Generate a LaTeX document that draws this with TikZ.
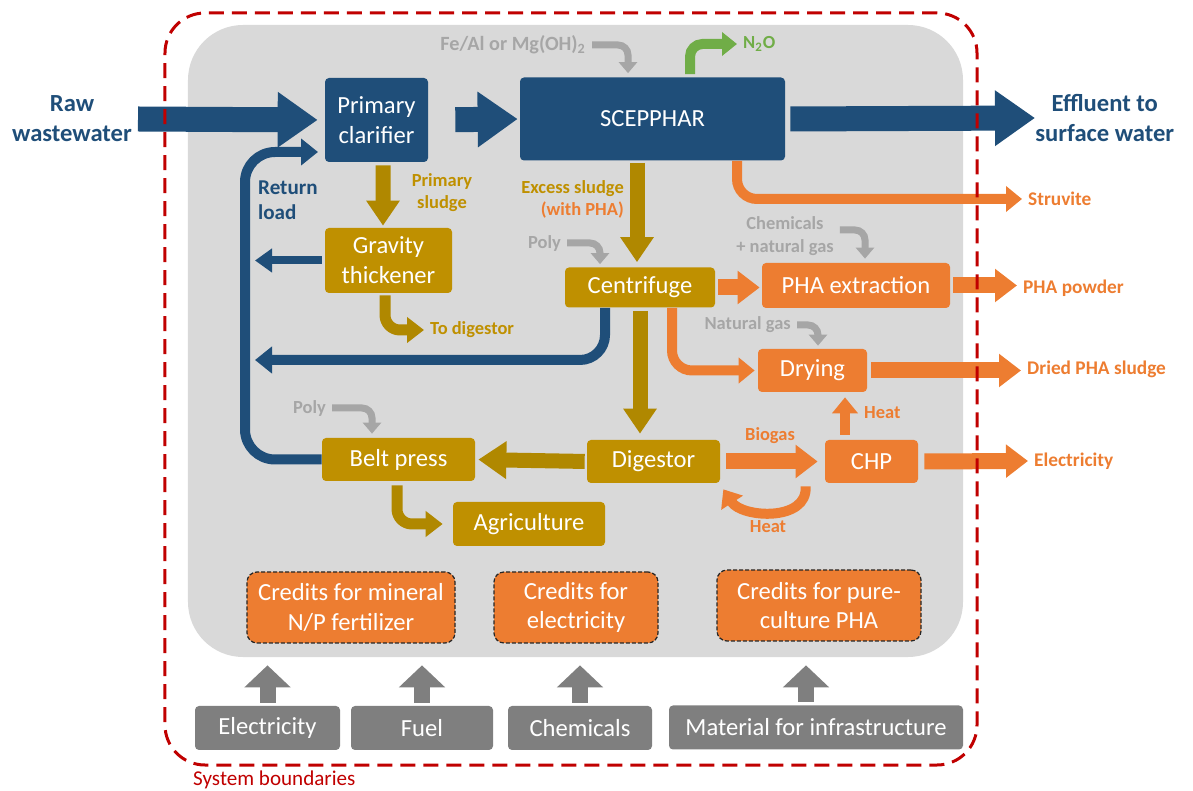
\documentclass[tikz,border=0pt]{standalone}
\usepackage{fontspec}
\setmainfont{Carlito}
\usepackage{tikz}
\usetikzlibrary{arrows.meta}
\definecolor{wwblue}{HTML}{1F4E79}
\definecolor{sgold}{HTML}{BF9000}
\definecolor{dgold}{HTML}{B08800}
\definecolor{porange}{HTML}{ED7D31}
\definecolor{ngreen}{HTML}{70AD47}
\definecolor{lgray}{HTML}{A6A6A6}
\definecolor{dgray}{HTML}{7F7F7F}
\definecolor{bggray}{HTML}{D9D9D9}
\definecolor{bred}{HTML}{C00000}
\newcommand{\procfont}{\fontsize{14}{17}\selectfont}
\newcommand{\termfont}{\fontsize{14}{17}\selectfont\bfseries}
\newcommand{\flowfont}{\fontsize{10.5}{12.5}\selectfont\bfseries}
\newcommand{\outfont}{\fontsize{11}{13}\selectfont\bfseries}
\newcommand{\chemfont}{\fontsize{10.5}{13}\selectfont\bfseries}

\begin{document}
\begin{tikzpicture}[x=0.2mm, y=-0.2mm]
        \tikzstyle{box} = [rectangle, rounded corners=0.8mm, inner sep=0pt, text=white, align=center, font=\procfont]
        \tikzstyle{bluebox} = [box, fill=wwblue]
        \tikzstyle{goldbox} = [box, fill=sgold]
        \tikzstyle{orangebox} = [box, fill=porange]
        \tikzstyle{creditbox} = [box, fill=porange, draw=black!85, dash pattern=on 0.8mm off 0.4mm, line width=0.25mm, rounded corners=2mm, minimum height=14.2mm]
        \tikzstyle{inputbox} = [box, fill=dgray, minimum height=8.8mm]
        \tikzstyle{bigflow} = [draw=wwblue, line width=5mm, -{Triangle[length=8mm,width=10.6mm]}]
        \tikzstyle{retflow} = [draw=wwblue, line width=2mm, -{Triangle[length=3.4mm,width=5.2mm]}, rounded corners=5mm]
        \tikzstyle{sludgeflow} = [draw=dgold, line width=3mm, -{Triangle[length=5mm,width=6.4mm]}]
        \tikzstyle{sludgebend} = [draw=dgold, line width=2.2mm, -{Triangle[length=3.4mm,width=5mm]}, rounded corners=3mm]
        \tikzstyle{energyflow} = [draw=porange, line width=3.2mm, -{Triangle[length=4.4mm,width=6.4mm]}]
        \tikzstyle{energybend} = [draw=porange, line width=2mm, -{Triangle[length=3.2mm,width=5mm]}, rounded corners=4mm]
        \tikzstyle{chemflow} = [draw=lgray, line width=1.4mm, -{Triangle[length=2.2mm,width=3.6mm]}, rounded corners=2mm]
        \tikzstyle{gasflow} = [draw=ngreen, line width=2mm, -{Triangle[length=3mm,width=4.6mm]}, rounded corners=2.5mm]
        \tikzstyle{inflow} = [draw=dgray, line width=3.2mm, -{Triangle[length=4.4mm,width=9mm]}]
        \useasboundingbox (0,0) rectangle (1193,791);
        \node (sys) [fill=bggray, rounded corners=11mm, minimum width=155mm, minimum height=126.4mm] at (575.5,341) {};

        \node (pc) [bluebox, minimum width=20.6mm, minimum height=16.8mm] at (376.5,120) {Primary\\clarifier};
        \node (scep) [bluebox, minimum width=53mm, minimum height=16.6mm] at (652.5,119) {SCEPPHAR};
        \node (grav) [goldbox, minimum width=25.4mm, minimum height=13mm] at (388.5,260.5) {Gravity\\thickener};
        \node (cent) [goldbox, minimum width=30mm, minimum height=8mm] at (640,287.5) {Centrifuge};
        \node (phaext) [orangebox, minimum width=37.6mm, minimum height=9mm] at (856,285.5) {PHA extraction};
        \node (dry) [orangebox, minimum width=21.8mm, minimum height=8.6mm] at (812.5,370.5) {Drying};
        \node (dig) [goldbox, minimum width=26.6mm, minimum height=8.6mm] at (653.5,461.5) {Digestor};
        \node (belt) [goldbox, minimum width=30.6mm, minimum height=8.6mm] at (398.5,459.5) {Belt press};
        \node (chp) [orangebox, minimum width=18.6mm, minimum height=8.6mm] at (871.5,461.5) {CHP};
        \node (agri) [goldbox, minimum width=30.4mm, minimum height=8.8mm] at (529,524) {Agriculture};

        \node (cred1) [creditbox, minimum width=41.6mm] at (351,607.5) {Credits for mineral\\N/P fertilizer};
        \node (cred2) [creditbox, minimum width=32.8mm] at (576,607.5) {Credits for\\electricity};
        \node (cred3) [creditbox, minimum width=40.8mm] at (819,605.5) {Credits for pure-\\culture PHA};

        \node (in1) [inputbox, minimum width=29mm] at (267.5,728) {Electricity};
        \node (in2) [inputbox, minimum width=28.4mm] at (422,728) {Fuel};
        \node (in3) [inputbox, minimum width=28.8mm] at (580,728) {Chemicals};
        \node (in4) [inputbox, minimum width=58.8mm] at (816,727.5) {Material for infrastructure};

        \node (raw) [text=wwblue, font=\termfont, align=center] at (72,119) {Raw\\wastewater};
        \node (eff) [text=wwblue, font=\termfont, align=center, anchor=west, inner sep=0pt] at (1035,118) {Effluent to\\surface water};
        \node (retload) [text=wwblue, font=\fontsize{12}{14.5}\selectfont\bfseries, align=left, anchor=west] at (252,200) {Return\\load};
        \node (psl) [text=sgold, font=\flowfont, align=center] at (442,193) {Primary\\sludge};
        \node (exsl) [font=\flowfont, align=right, anchor=east] at (630,199) {\textcolor{sgold}{Excess sludge}\\\textcolor{porange}{(with PHA)}};
        \node (todig) [text=sgold, font=\flowfont, anchor=west] at (424,330) {To digestor};
        \node (struv) [text=porange, font=\outfont, anchor=west] at (1022,199) {Struvite};
        \node (phapow) [text=porange, font=\outfont, anchor=west] at (1017,288) {PHA powder};
        \node (dried) [text=porange, font=\outfont, anchor=west] at (1021,369) {Dried PHA sludge};
        \node (elecout) [text=porange, font=\outfont, anchor=west] at (1028,461) {Electricity};
        \node (fe) [text=lgray, font=\fontsize{11.5}{14}\selectfont\bfseries, anchor=east] at (592,45) {Fe/Al or Mg(OH)\textsubscript{2}};
        \node (n2o) [text=ngreen, font=\flowfont, anchor=west] at (737,44) {N\textsubscript{2}O};
        \node (poly1) [text=lgray, font=\chemfont, anchor=east] at (567,243) {Poly};
        \node (chemgas) [text=lgray, font=\chemfont, align=center] at (785,236) {Chemicals\\+ natural gas};
        \node (natgas) [text=lgray, font=\chemfont, anchor=east] at (797,325) {Natural gas};
        \node (poly2) [text=lgray, font=\chemfont, anchor=east] at (332,408) {Poly};
        \node (heatup) [text=porange, font=\flowfont, anchor=west] at (858,413) {Heat};
        \node (biogas) [text=porange, font=\flowfont] at (770,436) {Biogas};
        \node (heatloop) [text=porange, font=\flowfont] at (768,527) {Heat};
        \node (sysb) [text=bred, font=\fontsize{12}{14}\selectfont, anchor=west] at (187,780) {System boundaries};

        \coordinate (gravret) at (255,260.5);
        \coordinate (centret) at (255,360);
        \coordinate (retcorner) at (245,152);
        \coordinate (retin) at (318,152);

        \draw[bigflow, shorten >=1.4mm] (raw.east) -- (pc.west);
        \draw[bigflow, shorten <=5.4mm, shorten >=0.4mm] (pc.east) -- (scep.west);
        \draw[bigflow, shorten <=1mm] (scep.east) -- (eff.west);
        \draw[gasflow, shorten <=0.6mm] ([xshift=7.5mm]scep.north) |- (n2o.west);
        \draw[chemflow, shorten >=0.8mm] (fe.east) -| ([xshift=-4.9mm]scep.north);
        \draw[energybend] ([xshift=16.9mm]scep.south) |- (struv.west);

        \draw[sludgeflow, shorten <=0.6mm, shorten >=0.4mm] ([xshift=1.3mm]pc.south) -- ([xshift=-1.1mm]grav.north);
        \draw[sludgeflow, shorten <=0.4mm, shorten >=1mm] ([xshift=-3.1mm]scep.south) -- ([xshift=-3.1mm]scep.south |- cent.north);
        \draw[retflow, line width=1.6mm, -{Triangle[length=3.4mm,width=4.6mm]}, shorten <=0.6mm] (grav.west) -- (gravret);
        \draw[sludgebend, shorten <=0.4mm] ([xshift=-0.7mm]grav.south) |- (todig.west);
        \draw[chemflow, shorten >=0.6mm] (poly1.east) -| ([xshift=-8mm]cent.north);
        \draw[chemflow, shorten >=0.8mm] ([yshift=1.2mm]chemgas.east) -| ([xshift=1.8mm]phaext.north);
        \draw[chemflow, shorten >=0.6mm] (natgas.east) -| ([xshift=1.1mm]dry.north);
        \draw[chemflow, shorten >=0.8mm] (poly2.east) -| ([xshift=-5.3mm]belt.north);

        \draw[energyflow, shorten <=0.6mm, shorten >=0.4mm] (cent.east) -- (cent.east -| phaext.west);
        \draw[energyflow, shorten <=0.6mm] (phaext.east) -- (phaext.east -| phapow.west);
        \draw[retflow] ([xshift=-7mm]cent.south) |- (centret);
        \draw[energybend, shorten >=0.6mm] ([xshift=6.4mm]cent.south) |- (dry.west);
        \draw[energyflow, shorten <=0.8mm] (dry.east) -- (dry.east -| dried.west);
        \draw[sludgeflow, shorten <=0.6mm, shorten >=1.2mm] (cent.south) -- (cent.south |- dig.north);

        \draw[sludgeflow, -{Triangle[length=5.6mm,width=7.2mm]}, shorten <=0.4mm, shorten >=0.6mm] (dig.west) -- (belt.east);
        \draw[energyflow, shorten <=1.2mm, shorten >=1.4mm] (dig.east) -- (chp.west);
        \draw[energyflow, shorten <=1.2mm] (chp.east) -- (elecout.west);
        \draw[energybend, shorten <=1mm, shorten >=1mm] ([xshift=-5.3mm]chp.north) -- ([xshift=-5.3mm]chp.north |- dry.south);
        \draw[energybend] ([xshift=-3.8mm,yshift=-0.6mm]chp.south west) .. controls (808,522) and (742,518) .. ([xshift=0.6mm,yshift=-1.2mm]dig.south east);
        \draw[sludgebend, shorten <=0.8mm, shorten >=2mm] ([xshift=-0.3mm]belt.south) |- (agri.west);
        \draw[retflow, rounded corners=6mm] (belt.west) -| (retcorner) -- (retin);

        \draw[inflow, shorten <=0.6mm, shorten >=1.6mm] (in1.north) -- (in1.north |- sys.south);
        \draw[inflow, shorten <=0.6mm, shorten >=1.6mm] (in2.north) -- (in2.north |- sys.south);
        \draw[inflow, shorten <=0.6mm, shorten >=1.6mm] (in3.north) -- (in3.north |- sys.south);
        \draw[inflow, shorten <=0.6mm, shorten >=1.6mm] ([xshift=-2mm]in4.north) -- ([xshift=-2mm]in4.north |- sys.south);

        \node (bound) [draw=bred, line width=0.6mm, dash pattern=on 3mm off 1.6mm, rounded corners=8mm, minimum width=162.4mm, minimum height=150.4mm] at (571,389) {};
    \end{tikzpicture}
\end{document}
